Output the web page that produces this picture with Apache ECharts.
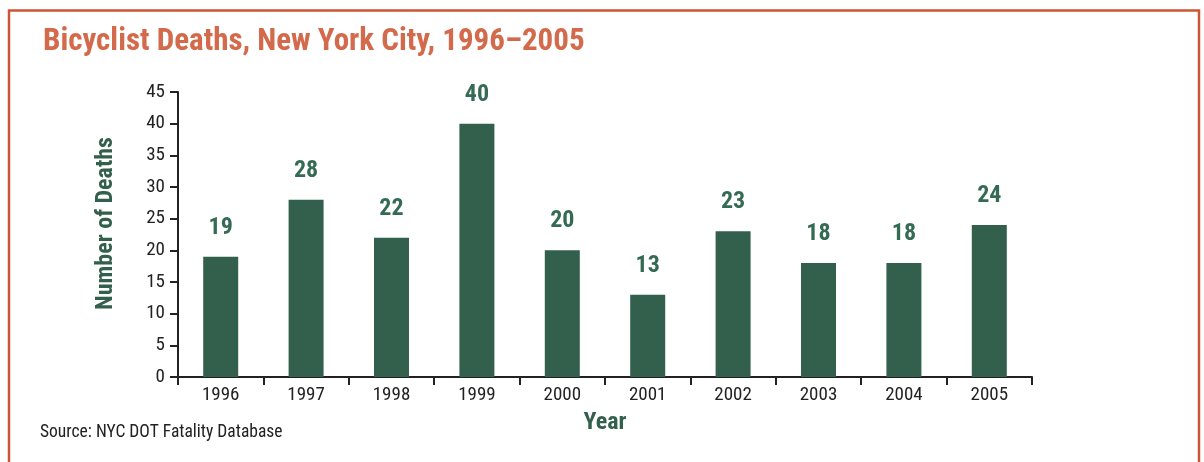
<!DOCTYPE html>
<html><head><meta charset="utf-8">
<script src="https://cdn.jsdelivr.net/npm/echarts@6/dist/echarts.min.js"></script>
<style>html,body{margin:0;padding:0;background:#fff}#c{width:1204px;height:462px}</style>
</head><body><div id="c"></div>
<script>
const years = ['1996','1997','1998','1999','2000','2001','2002','2003','2004','2005'];
const deaths = [19, 28, 22, 40, 20, 13, 23, 18, 18, 24];
const yTicks = {min: 0, max: 45, interval: 5};
const titleText = 'Bicyclist Deaths, New York City, 1996–2005';
const sourceText = 'Source: NYC DOT Fatality Database';

const F = "'Liberation Sans Narrow','Roboto Condensed','DejaVu Sans Condensed',sans-serif";
const green = '#33604d';
const chart = echarts.init(document.getElementById('c'), null, {renderer: 'canvas'});
chart.setOption({
  animation: false,
  backgroundColor: '#fff',
  title: {
    text: titleText, left: 38, top: 22,
    textStyle: {fontFamily: F, fontWeight: 'bold', fontSize: 31, color: '#d36a4b'}
  },
  graphic: [
    {type: 'rect', shape: {x: 9, y: 10.5, width: 1190, height: 480},
     style: {fill: 'none', stroke: '#cc5533', lineWidth: 2.5}, silent: true},
    {type: 'text', left: 40, top: 424,
     style: {text: sourceText, font: "17.5px " + F, fill: '#222'}}
  ],
  grid: {left: 178, right: 172, top: 92, bottom: 85, containLabel: false},
  xAxis: {
    type: 'category', data: years,
    name: 'Year', nameLocation: 'middle', nameGap: 34,
    nameTextStyle: {fontFamily: F, fontWeight: 'bold', fontSize: 24, color: green},
    axisLine: {lineStyle: {color: '#222', width: 2}},
    axisTick: {show: true, length: 8, lineStyle: {color: '#222', width: 2}},
    axisLabel: {fontFamily: F, fontSize: 19, color: '#222', margin: 9}
  },
  yAxis: {
    type: 'value', min: yTicks.min, max: yTicks.max, interval: yTicks.interval,
    name: 'Number of Deaths', nameLocation: 'middle', nameGap: 60, nameRotate: 90,
    nameTextStyle: {fontFamily: F, fontWeight: 'bold', fontSize: 24, color: green, padding: [0, 0, 0, 22]},
    axisLine: {show: true, lineStyle: {color: '#222', width: 2}},
    axisTick: {show: true, length: 8, lineStyle: {color: '#222', width: 2}},
    axisLabel: {fontFamily: F, fontSize: 19, color: '#222', margin: 13},
    splitLine: {show: false}
  },
  series: [{
    type: 'bar', data: deaths, barWidth: 35,
    itemStyle: {color: '#33604d'},
    label: {show: true, position: 'top', distance: 17,
      fontFamily: F, fontWeight: 'bold', fontSize: 24, color: '#356b54'}
  }]
});
</script></body></html>
